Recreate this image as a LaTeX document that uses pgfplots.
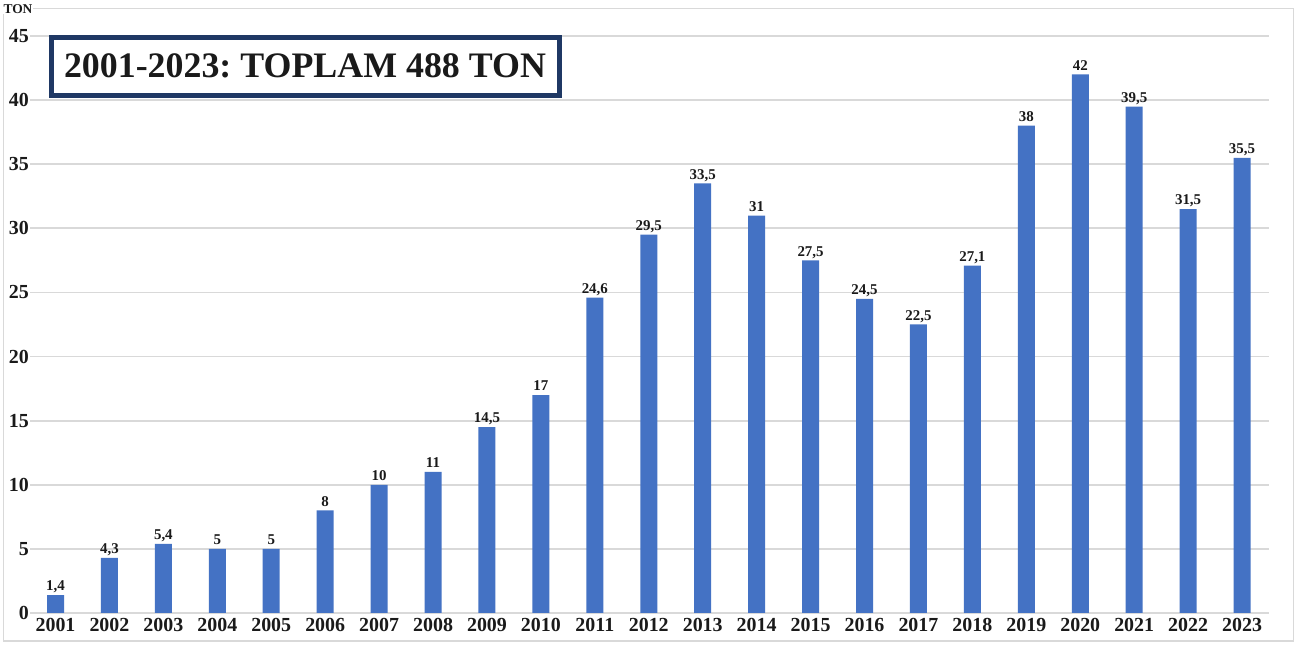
\documentclass[border=0pt]{standalone}
\usepackage{pgfplots}
\pgfplotsset{compat=1.18}
\usepackage{fontspec}
\setmainfont{Liberation Serif}
\frenchspacing
\definecolor{barblue}{HTML}{4472C4}
\definecolor{gridgray}{HTML}{D9D9D9}
\definecolor{navy}{HTML}{1F3864}
\definecolor{txt}{HTML}{1A1A1A}
\begin{document}
\begin{tikzpicture}[x=1bp,y=1bp]
\path[use as bounding box, fill=white] (0,0) rectangle (1297,646);
\draw[gridgray, line width=1.5bp] (3.5,5) rectangle (1293.5,637.5);
\begin{axis}[
  at={(30bp,33bp)}, anchor=south west,
  width=1239bp, height=577bp, scale only axis,
  xmin=-0.473, xmax=22.5, ymin=0, ymax=45,
  ytick={0,5,...,45},
  xtick={0,...,22},
  xticklabels={2001,2002,2003,2004,2005,2006,2007,2008,2009,2010,2011,2012,2013,2014,2015,2016,2017,2018,2019,2020,2021,2022,2023},
  ymajorgrids, grid style={gridgray, line width=1.8bp},
  axis line style={draw=none},
  major tick length=0pt,
  tick label style={font=\fontsize{20}{24}\selectfont\bfseries, text=txt},
  yticklabel style={inner sep=1bp},
  xticklabel style={inner sep=0pt, yshift=-5bp},
  /pgf/number format/assume math mode=true,
  /pgf/number format/use comma,
  /pgf/number format/1000 sep={},
  ybar, bar width=17bp,
  nodes near coords,
  nodes near coords style={font=\fontsize{15}{18}\selectfont\bfseries, text=txt, text depth=0pt, inner ysep=4bp},
  clip=false,
]
\addplot[fill=barblue, draw=none] coordinates {
(0,1.4) (1,4.3) (2,5.4) (3,5) (4,5) (5,8) (6,10) (7,11) (8,14.5) (9,17)
(10,24.6) (11,29.5) (12,33.5) (13,31) (14,27.5) (15,24.5) (16,22.5) (17,27.1)
(18,38) (19,42) (20,39.5) (21,31.5) (22,35.5)
};
\end{axis}
\node[fill=white, inner sep=0.5bp, text=txt, font=\fontsize{13.5}{16}\selectfont\bfseries] at (18,637) {TON};
\draw[navy, line width=5bp, fill=white] (51.5,608.5) rectangle (559,550.5);
\node[text=txt, font=\fontsize{36}{40}\selectfont\bfseries] at (305,580) {2001-2023: TOPLAM 488 TON};
\end{tikzpicture}
\end{document}
